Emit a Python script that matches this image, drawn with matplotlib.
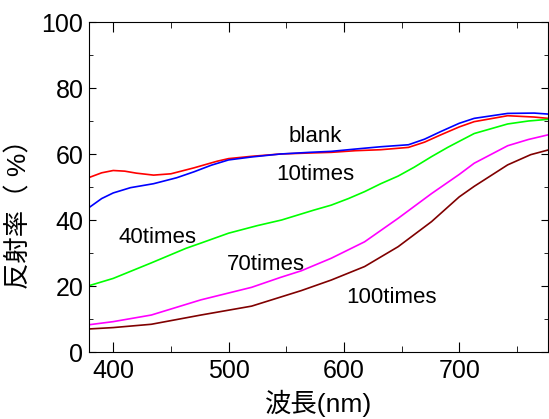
import numpy as np
import matplotlib
matplotlib.use("Agg")
import matplotlib.pyplot as plt
from matplotlib.ticker import MultipleLocator

plt.rcParams['font.family'] = ['Liberation Sans', 'Noto Sans CJK JP', 'DejaVu Sans']

# --- data ---
blank_x = [380, 390, 400, 410, 420, 435, 450, 470, 490, 500, 520, 545, 570, 589, 610, 632, 656, 670, 684, 700, 713, 742, 765, 777]
blank_y = [53.0, 54.3, 55.0, 54.8, 54.2, 53.6, 54.0, 55.8, 57.8, 58.6, 59.3, 60.0, 60.3, 60.5, 61.0, 61.3, 62.0, 63.6, 65.8, 68.2, 69.8, 71.6, 71.2, 70.8]

t10_x = [380, 390, 400, 415, 435, 455, 470, 485, 500, 520, 545, 570, 589, 610, 632, 656, 670, 684, 700, 713, 742, 765, 777]
t10_y = [44.0, 46.5, 48.2, 49.8, 51.0, 52.8, 54.6, 56.6, 58.2, 59.1, 60.0, 60.5, 60.8, 61.5, 62.2, 62.8, 64.5, 66.8, 69.3, 70.8, 72.3, 72.4, 72.1]

t40_x = [380, 400, 433, 463, 476, 500, 525, 546, 574, 589, 604, 618, 632, 647, 661, 676, 690, 702, 713, 742, 760, 777]
t40_y = [20.2, 22.3, 27.0, 31.4, 33.0, 36.0, 38.3, 40.0, 43.0, 44.5, 46.5, 48.6, 51.0, 53.3, 56.0, 59.2, 62.0, 64.2, 66.2, 69.1, 70.0, 70.5]

t70_x = [380, 400, 433, 476, 520, 545, 563, 589, 618, 647, 676, 700, 713, 742, 760, 777]
t70_y = [8.3, 9.2, 11.2, 15.8, 19.6, 22.6, 24.6, 28.4, 33.4, 40.5, 48.0, 53.8, 57.2, 62.5, 64.4, 65.8]

t100_x = [380, 400, 433, 476, 520, 563, 589, 618, 647, 676, 700, 713, 742, 762, 777]
t100_y = [7.0, 7.4, 8.4, 11.2, 13.9, 18.6, 21.8, 25.9, 31.9, 39.5, 47.0, 50.2, 56.7, 59.8, 61.2]

series = [
    (blank_x, blank_y, "#ff0000"),
    (t10_x, t10_y, "#0000ff"),
    (t40_x, t40_y, "#00ff00"),
    (t70_x, t70_y, "#ff00ff"),
    (t100_x, t100_y, "#800000"),
]

# label text, x, baseline y
labels = [
    ("blank", 575, 63.6),
    ("10times", 575, 52.1),
    ("40times", 438, 32.9),
    ("70times", 532, 24.8),
    ("100times", 641, 14.9),
]

fig = plt.figure(figsize=(5.49, 4.19), dpi=100)
ax = fig.add_axes([89 / 549, 1 - 352 / 419, (548 - 89) / 549, (352 - 22) / 419])

for xs, ys, c in series:
    ax.plot(xs, ys, color=c, lw=1.2)

for txt, x, y in labels:
    ax.text(x, y, txt, fontsize=16, ha="center", va="baseline")

ax.set_xlim(379, 777)
ax.set_ylim(0, 100)
ax.xaxis.set_major_locator(MultipleLocator(100))
ax.xaxis.set_minor_locator(MultipleLocator(50))
ax.yaxis.set_major_locator(MultipleLocator(20))
ax.yaxis.set_minor_locator(MultipleLocator(10))

ax.tick_params(axis="both", which="both", direction="in", top=True, right=True, labelsize=18)
ax.tick_params(axis="x", which="major", length=7, pad=5)
ax.tick_params(axis="x", which="minor", length=4)
ax.tick_params(axis="y", which="major", length=5, pad=4)
ax.tick_params(axis="y", which="minor", length=3)

ax.set_xlabel("波長(nm)", fontsize=19, labelpad=5)
fig.text(18.5 / 549, 1 - 208 / 419, "反射率（ %）", rotation=90, fontsize=19,
         ha="center", va="center")

plt.savefig("out.png", dpi=100)
